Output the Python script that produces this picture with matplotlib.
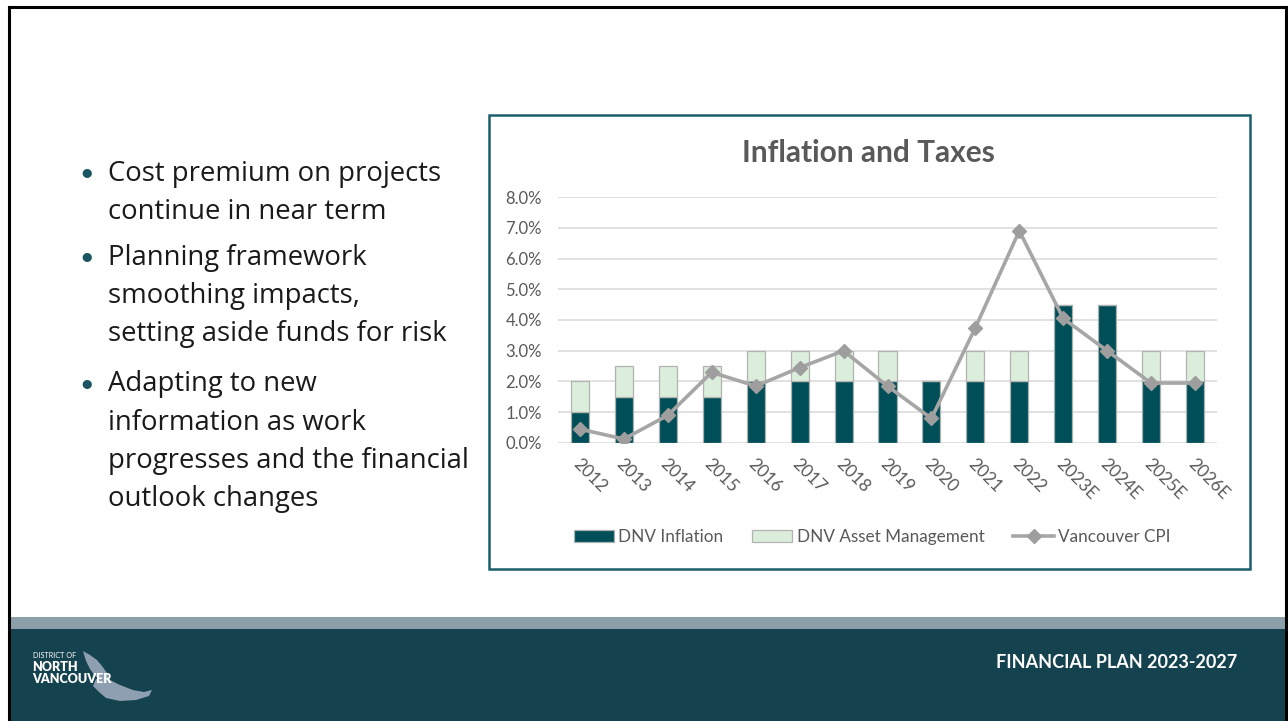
import matplotlib
matplotlib.use("Agg")
import matplotlib.pyplot as plt
from matplotlib.patches import Rectangle, Polygon
from matplotlib.lines import Line2D
from matplotlib.ticker import FuncFormatter
import matplotlib.transforms as mtransforms

# ---------------- data ----------------
years = ["2012", "2013", "2014", "2015", "2016", "2017", "2018", "2019",
         "2020", "2021", "2022", "2023E", "2024E", "2025E", "2026E"]
dnv_inflation = [1.0, 1.5, 1.5, 1.5, 2.0, 2.0, 2.0, 2.0, 2.0, 2.0, 2.0, 4.5, 4.5, 2.0, 2.0]
dnv_asset_mgmt = [1.0, 1.0, 1.0, 1.0, 1.0, 1.0, 1.0, 1.0, 0.0, 1.0, 1.0, 0.0, 0.0, 1.0, 1.0]
vancouver_cpi = [0.45, 0.13, 0.9, 2.3, 1.85, 2.45, 3.0, 1.85, 0.8, 3.75, 6.9, 4.05, 3.0, 1.95, 1.95]
y_ticks = [0, 1, 2, 3, 4, 5, 6, 7, 8]

chart_title = "Inflation and Taxes"
series_names = ["DNV Inflation", "DNV Asset Management", "Vancouver CPI"]
bullets = [
    ["Cost premium on projects", "continue in near term"],
    ["Planning framework", "smoothing impacts,", "setting aside funds for risk"],
    ["Adapting to new", "information as work", "progresses and the financial", "outlook changes"],
]
footer_text = "FINANCIAL PLAN 2023-2027"

# ---------------- styling ----------------
W, H = 1288, 721
FONT = "Lato"
TEAL = "#004f58"
LIGHT = "#dbeedb"
GRID = "#d9d9d9"
CPI_COL = "#a6a6a6"
TXT = "#595959"

plt.rcParams["font.family"] = [FONT, "DejaVu Sans"]

fig = plt.figure(figsize=(W / 100, H / 100), dpi=100)
fig.patch.set_facecolor("white")


def fx(x):
    return x / W


def fy(y):
    return 1 - y / H


# slide border
fig.add_artist(Line2D([fx(8.5), fx(1286)], [fy(6.5), fy(6.5)], color="black", lw=2.2))
fig.add_artist(Line2D([fx(8.5), fx(8.5)], [fy(6.5), fy(721)], color="black", lw=2.2))
fig.add_artist(Line2D([fx(1286), fx(1286)], [fy(6.5), fy(721)], color="black", lw=2.2))

# footer
fig.add_artist(Rectangle((fx(9.5), fy(629)), fx(1285) - fx(9.5), fy(617) - fy(629),
                         transform=fig.transFigure, color="#8a9fa8", lw=0, zorder=1))
fig.add_artist(Rectangle((fx(9.5), 0), fx(1285) - fx(9.5), fy(629),
                         transform=fig.transFigure, color="#15424f", lw=0, zorder=1))
fig.text(fx(1237), fy(662), footer_text, color="white", fontsize=13, fontweight="bold",
         ha="right", va="center", zorder=3)

# logo
wing = [(83, 651), (90, 655), (97, 660), (102, 666), (107, 673), (110, 680), (102, 681),
        (95, 676), (90, 669), (86, 661)]
body = [(96, 679), (108, 679), (120, 685), (133, 690), (144, 692), (152, 690), (149, 696),
        (136, 700), (120, 701), (106, 698), (99, 692), (93, 686)]
for shape in (wing, body):
    fig.add_artist(Polygon([(fx(a), fy(b)) for a, b in shape], closed=True,
                           transform=fig.transFigure, color="#8d9fb0", lw=0, zorder=2))
fig.text(fx(33), fy(655), "DISTRICT OF", color="white", fontsize=5.2, ha="left", va="center", zorder=3)
fig.text(fx(32), fy(667), "NORTH", color="white", fontsize=9, fontweight="heavy", ha="left", va="center", zorder=3)
fig.text(fx(32), fy(679), "VANCOUVER", color="white", fontsize=9, fontweight="heavy", ha="left", va="center", zorder=3)

# bullets
y = 173.5
group_gaps = [8, 12, 0]
for group, gap in zip(bullets, group_gaps):
    fig.text(fx(87), fy(y), "\u2022", color="#1b5562", fontsize=18, ha="center", va="center")
    for line in group:
        fig.text(fx(108), fy(y), line, color="#1a1a1a", fontsize=19.8, ha="left", va="center",
                 family=["Open Sans", "DejaVu Sans"])
        y += 38.2
    y += gap

# chart box
fig.add_artist(Rectangle((fx(489.5), fy(569)), fx(1250) - fx(489.5), fy(114.5) - fy(569),
                         transform=fig.transFigure, fill=False, edgecolor="#1b5f6a", lw=1.8, zorder=2))
fig.text(fx(868), fy(153), chart_title, color=TXT, fontsize=21.5, fontweight="bold",
         ha="center", va="center")

# plot area
ax = fig.add_axes([fx(558), fy(443), fx(1217) - fx(558), fy(197) - fy(443)])
x = list(range(len(years)))
b1 = ax.bar(x, dnv_inflation, width=0.41, color=TEAL, edgecolor="#a9b0b0", lw=0.9, zorder=3,
            label=series_names[0])
b2 = ax.bar(x, dnv_asset_mgmt, width=0.41, bottom=dnv_inflation, color=LIGHT, edgecolor="#b3b3b3",
            lw=0.9, zorder=3, label=series_names[1])
ln, = ax.plot(x, vancouver_cpi, color=CPI_COL, lw=2.6, marker="D", markersize=7.5,
              markerfacecolor="#9e9e9e", markeredgecolor="#9e9e9e", zorder=4, label=series_names[2])

ax.set_xlim(-0.5, len(years) - 0.5)
ax.set_ylim(0, 8)
ax.set_yticks(y_ticks)
ax.yaxis.set_major_formatter(FuncFormatter(lambda v, p: f"{v:.1f}%"))
ax.grid(axis="y", color=GRID, lw=1.1, zorder=0)
ax.set_axisbelow(True)
for s in ax.spines.values():
    s.set_visible(False)
ax.tick_params(axis="y", length=0, pad=11.5, labelsize=12, labelcolor=TXT)
ax.tick_params(axis="x", length=0, pad=9, labelsize=12.5, labelcolor=TXT)
ax.set_xticks(x)
ax.set_xticklabels(years, rotation=-45, ha="left", va="top", rotation_mode="anchor")
offset = mtransforms.ScaledTranslation(1 / 100, 0, fig.dpi_scale_trans)
for lab in ax.get_xticklabels():
    lab.set_transform(lab.get_transform() + offset)

leg = fig.legend(handles=[b1, b2, ln], labels=series_names, loc="center",
                 bbox_to_anchor=(fx(872), fy(537)), ncol=3, frameon=False, fontsize=12.3,
                 handlelength=2.35, handletextpad=0.25, columnspacing=1.7, labelcolor=TXT)

fig.savefig("out.png", dpi=100)
